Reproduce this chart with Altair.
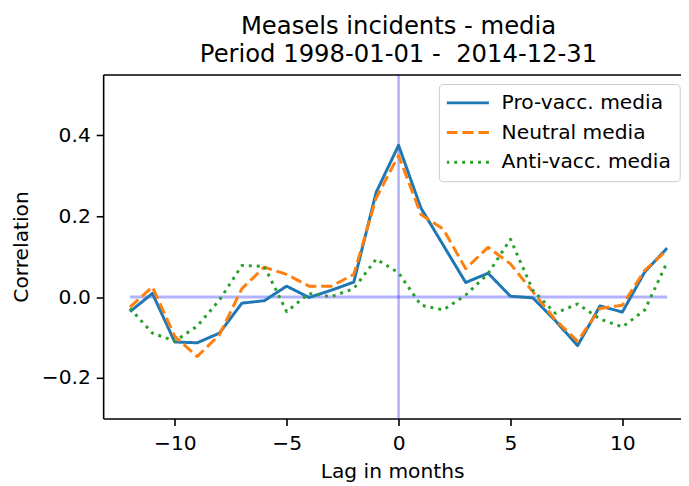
import altair as alt
import pandas as pd

# ---------------- data ----------------
lags = list(range(-12, 13))
pro_vacc = [-0.036, 0.009, -0.111, -0.113, -0.089, -0.015, -0.009, 0.027, -0.001, 0.017, 0.037, 0.259,
            0.375, 0.220, 0.128, 0.036, 0.059, 0.002, -0.002, -0.058, -0.120, -0.022, -0.037, 0.062, 0.121]
neutral = [-0.025, 0.025, -0.097, -0.147, -0.093, 0.021, 0.074, 0.056, 0.027, 0.027, 0.056, 0.245,
           0.350, 0.204, 0.168, 0.070, 0.123, 0.082, 0.013, -0.056, -0.109, -0.028, -0.020, 0.066, 0.116]
anti_vacc = [-0.028, -0.089, -0.109, -0.072, -0.007, 0.078, 0.076, -0.036, 0.009, 0.001, 0.021, 0.094,
             0.060, -0.020, -0.032, 0.005, 0.058, 0.143, 0.017, -0.040, -0.017, -0.054, -0.074, -0.032, 0.086]
zero_values = [0, 0, 0, 0, 0, 0, 0, 0, 0, 0, 0, 0, 0, 0, 0, 0, 0, 0, 0, 0, 0, 0, 0, 0, 0]
vline_at = [0]

series_names = ["Pro-vacc. media", "Neutral media", "Anti-vacc. media"]
series_colors = ["#1f77b4", "#ff7f0e", "#2ca02c"]
series_dashes = [[1, 0], [11.3, 4.9], [3.0, 5.0]]

x_ticks = [-10, -5, 0, 5, 10]
y_ticks = [-0.2, 0.0, 0.2, 0.4]
x_title = "Lag in months"
y_title = "Correlation"
title_lines = ["Measels incidents - media", "Period 1998-01-01 -\u00a0 2014-12-31"]

# ---------------- tables ----------------
rows = []
for name, vals in zip(series_names, [pro_vacc, neutral, anti_vacc]):
    for lag, v in zip(lags, vals):
        rows.append({"lag": lag, "value": v, "series": name})
df = pd.DataFrame(rows)
df_zero = pd.DataFrame({"lag": lags, "value": zero_values})
df_v = pd.DataFrame({"v": vline_at})

FONT = "DejaVu Sans"
W, H = 583, 347
LW = 3.0

x_scale = alt.Scale(domain=[-13.2, 12.62], nice=False, zero=False)
y_scale = alt.Scale(domain=[-0.3, 0.55], nice=False, zero=False)
y_axis = alt.Axis(values=y_ticks, format=".1f", title=y_title, titlePadding=10)

vline = alt.Chart(df_v).mark_rule(color="#0000ff", opacity=0.3, strokeWidth=2.6).encode(
    x=alt.X("v:Q", scale=x_scale,
            axis=alt.Axis(orient="top", labels=False, ticks=False, title=None, domain=True))
)

hline = alt.Chart(df_zero).mark_line(color="#0000ff", opacity=0.3, strokeWidth=LW).encode(
    x=alt.X("lag:Q", scale=x_scale, axis=None),
    y=alt.Y("value:Q", scale=y_scale, axis=y_axis),
)

lines = alt.Chart(df).mark_line(strokeWidth=LW, strokeJoin="round").encode(
    x=alt.X("lag:Q", scale=x_scale,
            axis=alt.Axis(values=x_ticks, format="d", title=x_title, labelPadding=8, titlePadding=8)),
    y=alt.Y("value:Q", scale=y_scale, axis=y_axis),
    color=alt.Color("series:N", scale=alt.Scale(domain=series_names, range=series_colors),
                    legend=alt.Legend(title=None)),
    strokeDash=alt.StrokeDash("series:N", scale=alt.Scale(domain=series_names, range=series_dashes),
                              legend=alt.Legend(title=None)),
)

chart = (
    alt.layer(vline, hline, lines)
    .resolve_axis(x="independent")
    .properties(
        width=W,
        height=H,
        autosize=alt.AutoSizeParams(type="none"),
        padding={"left": 96, "top": 65, "right": 0, "bottom": 64},
        title=alt.TitleParams(text=title_lines, font=FONT, fontSize=24.5, fontWeight="normal",
                              color="black", anchor="middle", lineHeight=28.5, dx=6.5, offset=6),
    )
    .configure_view(stroke=None)
    .configure_axis(
        labelFont=FONT, labelFontSize=20.4, labelColor="black", labelPadding=6,
        titleFont=FONT, titleFontSize=20.4, titleFontWeight="normal", titleColor="black",
        domainColor="black", domainWidth=1.6, tickColor="black", tickWidth=1.6, tickSize=7,
        grid=False,
    )
    .configure_legend(
        orient="none", legendX=338.7, legendY=9.6,
        symbolType="stroke", symbolSize=1849, symbolStrokeWidth=LW, symbolOffset=-2,
        clipHeight=22,
        labelFont=FONT, labelFontSize=20.4, labelColor="black", labelOffset=11.3, labelLimit=400,
        padding=8, rowPadding=8, strokeColor="#cccccc", fillColor="rgba(255,255,255,0.8)",
        cornerRadius=4,
    )
)

chart.save("out.html", embed_options={"renderer": "svg", "actions": False})
